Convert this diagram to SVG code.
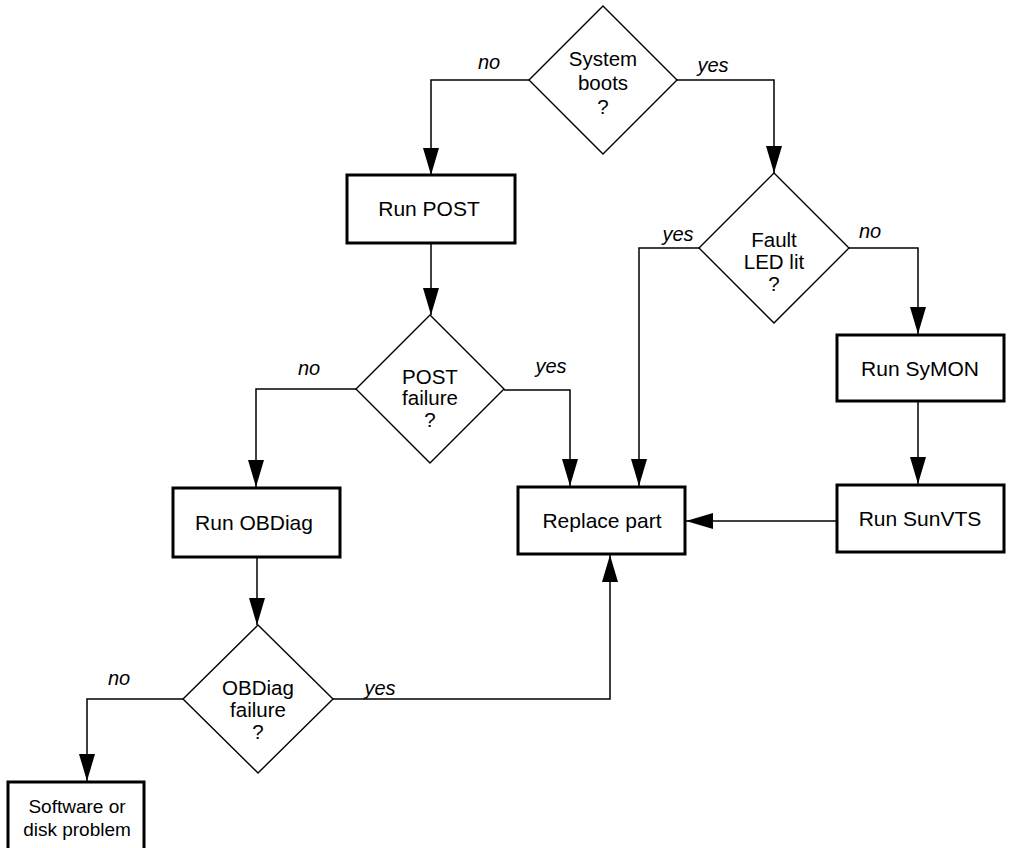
<svg xmlns="http://www.w3.org/2000/svg" width="1011" height="848" viewBox="0 0 1011 848">
<style>
.box{fill:#fff;stroke:#000;stroke-width:3}
.dia{fill:#fff;stroke:#000;stroke-width:1.4}
.con{fill:none;stroke:#000;stroke-width:1.5}
.t{font-family:"Liberation Sans",Arial,sans-serif;font-size:21px;fill:#000;text-anchor:middle}
.s{font-family:"Liberation Sans",Arial,sans-serif;font-size:19px;fill:#000;text-anchor:middle}
.d{font-family:"Liberation Sans",Arial,sans-serif;font-size:20.5px;fill:#000;text-anchor:middle}
.lbl{font-family:"Liberation Sans",Arial,sans-serif;font-size:20px;font-style:italic;fill:#000;text-anchor:middle}
</style>
<defs>
<marker id="ah" markerUnits="userSpaceOnUse" markerWidth="28" markerHeight="18" refX="27" refY="8" orient="auto">
<path d="M0,0 L27,8 L0,16 z" fill="#000"/>
</marker>
</defs>
<rect width="1011" height="848" fill="#fff"/>
<g id="connectors">
<polyline class="con" points="529,80 431,80 431,175" marker-end="url(#ah)"/>
<polyline class="con" points="677,80 774,80 774,173" marker-end="url(#ah)"/>
<polyline class="con" points="699,248 639,248 639,486" marker-end="url(#ah)"/>
<polyline class="con" points="849,248 918,248 918,334" marker-end="url(#ah)"/>
<polyline class="con" points="918,401 918,484" marker-end="url(#ah)"/>
<polyline class="con" points="837,521 686,521" marker-end="url(#ah)"/>
<polyline class="con" points="431,243 431,315" marker-end="url(#ah)"/>
<polyline class="con" points="356,389 256,389 256,487" marker-end="url(#ah)"/>
<polyline class="con" points="504,390 570,390 570,486" marker-end="url(#ah)"/>
<polyline class="con" points="257,557 257,625" marker-end="url(#ah)"/>
<polyline class="con" points="183,699 87,699 87,781" marker-end="url(#ah)"/>
<polyline class="con" points="333,699 610,699 610,555" marker-end="url(#ah)"/>
<text class="lbl" x="489" y="69">no</text>
<text class="lbl" x="713" y="72">yes</text>
<text class="lbl" x="678" y="241">yes</text>
<text class="lbl" x="870" y="238">no</text>
<text class="lbl" x="309" y="375">no</text>
<text class="lbl" x="551" y="373">yes</text>
<text class="lbl" x="119" y="685">no</text>
<text class="lbl" x="380" y="695">yes</text>
</g>
<g id="system-boots">
<polygon class="dia" points="603,6 677,80 603,154 529,80"/>
<text class="d" x="603" y="66">System</text>
<text class="d" x="603" y="90">boots</text>
<text class="d" x="603" y="114">?</text>
</g>
<g id="run-post">
<rect class="box" x="347" y="175" width="168" height="68"/>
<text class="t" x="429" y="216">Run POST</text>
</g>
<g id="fault-led">
<polygon class="dia" points="774,173 849,248 774,323 699,248"/>
<text class="d" x="774" y="247">Fault</text>
<text class="d" x="774" y="269">LED lit</text>
<text class="d" x="774" y="291">?</text>
</g>
<g id="post-failure">
<polygon class="dia" points="430,315 504,389 430,463 356,389"/>
<text class="d" x="430" y="384">POST</text>
<text class="d" x="430" y="405">failure</text>
<text class="d" x="430" y="427">?</text>
</g>
<g id="run-symon">
<rect class="box" x="837" y="335" width="167" height="66"/>
<text class="t" x="920" y="376">Run SyMON</text>
</g>
<g id="run-sunvts">
<rect class="box" x="837" y="485" width="167" height="67"/>
<text class="t" x="920" y="526">Run SunVTS</text>
</g>
<g id="replace-part">
<rect class="box" x="518" y="487" width="167" height="67"/>
<text class="t" x="602" y="528">Replace part</text>
</g>
<g id="run-obdiag">
<rect class="box" x="173" y="488" width="167" height="69"/>
<text class="t" x="254" y="530">Run OBDiag</text>
</g>
<g id="obdiag-failure">
<polygon class="dia" points="258,625 333,699 258,773 183,699"/>
<text class="d" x="258" y="695">OBDiag</text>
<text class="d" x="258" y="717">failure</text>
<text class="d" x="258" y="739">?</text>
</g>
<g id="software-disk">
<rect class="box" x="8" y="782" width="136" height="70"/>
<text class="s" x="77" y="813">Software or</text>
<text class="s" x="77" y="836">disk problem</text>
</g>
</svg>
